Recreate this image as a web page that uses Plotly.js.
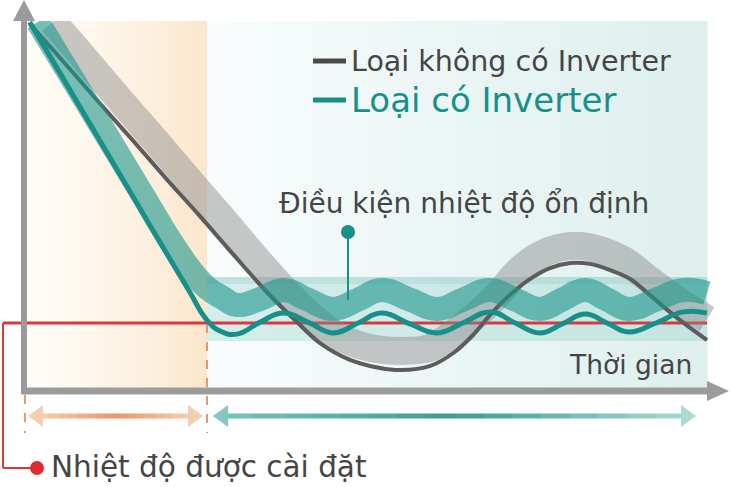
<!DOCTYPE html>
<html>
<head>
<meta charset="utf-8">
<script src="https://cdn.plot.ly/plotly-3.0.1.min.js"></script>
<style>
  html, body { margin: 0; padding: 0; background: #fff; }
  #chart { width: 730px; height: 487px; }
</style>
</head>
<body>
<div id="chart"></div>
<script>
// thời gian (0..100) / nhiệt độ (set point = 20)
const setTemp = 20;

// Loại có Inverter - đường thực tế
const timeInverter = [0.4, 5.4, 10.4, 15.4, 20.4, 24, 26.2, 28.4, 30.9, 34.3, 37.7, 41.3, 45, 48.7, 52.1, 56.3, 60.3, 64.1, 68.1, 71.8, 75.4, 78.7, 82.1, 85.3, 88.5, 92.5, 96.5, 100];
const tempInverter = [30.03, 28.12, 26.2, 24.28, 22.37, 21.01, 20.17, 19.73, 19.63, 20.03, 20.33, 20.03, 19.67, 20, 20.33, 19.97, 19.67, 20, 20.37, 20, 19.67, 19.97, 20.3, 20, 19.7, 20, 20.37, 20.33];

// Loại có Inverter - dải dao động
const timeInverterBand = [1.6, 6.6, 11.6, 16.6, 21.3, 24.3, 26.5, 28.7, 30.9, 34.3, 37.7, 41.3, 45, 48.7, 52.1, 56.3, 60.3, 64.1, 68.1, 71.8, 75.4, 78.7, 82.1, 85.3, 88.5, 92.5, 96.5, 100];
const tempInverterBand = [30.03, 28.17, 26.3, 24.43, 22.67, 21.7, 21.17, 20.85, 20.6, 20.8, 21.1, 20.78, 20.47, 20.78, 21.1, 20.78, 20.47, 20.78, 21.1, 20.78, 20.47, 20.78, 21.1, 20.78, 20.47, 20.78, 21.1, 21.0];

// Loại không có Inverter - đường thực tế
const timeStandard = [0.4, 5.4, 10.4, 15.4, 20.4, 25.4, 30.4, 35.4, 39.4, 43.1, 47.5, 51.9, 54.9, 59.3, 62.7, 65.6, 68.1, 71, 74, 76.9, 79.9, 82.8, 85.7, 88.7, 91.6, 95.6, 100];
const tempStandard = [29.97, 28.7, 27.4, 26.13, 24.83, 23.57, 22.27, 21.0, 20.1, 19.33, 18.77, 18.5, 18.43, 18.57, 19.0, 19.6, 20.27, 20.93, 21.47, 21.83, 22.0, 21.97, 21.77, 21.47, 20.93, 20.17, 19.43];

// Loại không có Inverter - dải dao động
const timeStandardBand = [3.8, 8.8, 13.8, 18.8, 23.8, 28.8, 33.8, 37.9, 41.6, 46, 50.4, 54.9, 59.3, 62.9, 66.6, 69.6, 71.8, 74.7, 78.1, 81.3, 84.3, 87.9, 91.6, 95.6, 100];
const tempStandardBand = [30.03, 28.73, 27.4, 26.1, 24.77, 23.47, 22.13, 21.1, 20.27, 19.53, 19.17, 19.07, 19.17, 19.7, 20.37, 21.03, 21.63, 22.17, 22.5, 22.57, 22.43, 22.07, 21.43, 20.77, 20.13];

const legendLabels = ['Loại không có Inverter', 'Loại có Inverter'];
const noteStable = 'Điều kiện nhiệt độ ổn định';
const noteTime = 'Thời gian';
const noteSet = 'Nhiệt độ được cài đặt';

const W = 730, H = 487;
const px = x => x / W;
const py = y => 1 - y / H;
const FONT = '"DejaVu Sans", Lato, sans-serif';
const TEXT = '#454545';
const TEAL = '#17908a';
const GRAY = '#5c5c5c';

function rect(x0, y0, x1, y1, color, layer) {
    return { type: 'rect', xref: 'paper', yref: 'paper', layer: layer || 'below',
        x0: px(x0), x1: px(x1), y0: py(y1), y1: py(y0),
        fillcolor: color, line: { width: 0 } };
}
function seg(x0, y0, x1, y1, color, width, dash) {
    return { type: 'line', xref: 'paper', yref: 'paper', layer: 'below',
        x0: px(x0), x1: px(x1), y0: py(y0), y1: py(y1),
        line: { color: color, width: width, dash: dash || 'solid' } };
}
function tri(pts, color) {
    const d = 'M ' + pts.map(p => px(p[0]) + ' ' + py(p[1])).join(' L ') + ' Z';
    return { type: 'path', xref: 'paper', yref: 'paper', layer: 'above', path: d,
        fillcolor: color, line: { width: 0 } };
}
function dot(x, y, r, color) {
    return { type: 'circle', xref: 'paper', yref: 'paper', layer: 'above',
        x0: px(x - r), x1: px(x + r), y0: py(y + r), y1: py(y - r),
        fillcolor: color, line: { width: 0 } };
}
function mix(a, b, f) {
    return 'rgb(' + a.map((v, i) => Math.round(v + (b[i] - v) * f)).join(',') + ')';
}
function label(text, x, y, size, color) {
    return { text: text, xref: 'paper', yref: 'paper', x: px(x), y: py(y),
        xanchor: 'left', yanchor: 'middle', showarrow: false,
        font: { family: FONT, size: size, color: color } };
}
// thanh mũi tên có màu chuyển (đầu -> giữa -> cuối)
function gradBar(x0, x1, y, c0, cm, c1, width) {
    const out = [], n = 16;
    for (let i = 0; i < n; i++) {
        const f = (i + 0.5) / n;
        const c = f < 0.5 ? mix(c0, cm, f * 2) : mix(cm, c1, (f - 0.5) * 2);
        out.push(seg(x0 + (x1 - x0) * i / n, y, x0 + (x1 - x0) * (i + 1) / n + 0.6, y, c, width));
    }
    return out;
}

const shapes = [];

// nền cam (giai đoạn làm lạnh) và nền xanh nhạt
const N = 24;
for (let i = 0; i < N; i++) {
    const a = 27 + (207 - 27) * i / N, b = 27 + (207 - 27) * (i + 1) / N + 0.5;
    shapes.push(rect(a, 21, b, 391, mix([255, 252, 247], [251, 231, 205], Math.pow(i / (N - 1), 1.3))));
}
for (let i = 0; i < N; i++) {
    const a = 207 + (707 - 207) * i / N, b = 207 + (707 - 207) * (i + 1) / N + 0.5;
    shapes.push(rect(a, 21, b, 391, mix([248, 252, 252], [222, 239, 238], i / (N - 1))));
}
// dải ổn định
shapes.push(rect(207, 277, 707, 341, 'rgba(150,208,202,0.35)'));
shapes.push(rect(207, 277, 707, 284, 'rgba(130,195,188,0.25)'));

// đường nhiệt độ cài đặt
shapes.push({ type: 'line', xref: 'paper', yref: 'y', layer: 'below',
    x0: px(3), x1: px(707), y0: setTemp, y1: setTemp,
    line: { color: '#d8393c', width: 3 } });
shapes.push(seg(3, 323, 3, 468, '#d8393c', 2));
shapes.push(seg(3, 468, 36, 468, '#d8393c', 2));
shapes.push(dot(37, 468, 7, '#e02b2f'));

// cắt phần dải phía trên khung
shapes.push(rect(27, 0, 730, 21, '#ffffff', 'above'));

// trục
shapes.push(seg(24, 18, 24, 394, '#9b9b9b', 6));
shapes.push(seg(21, 391, 708, 391, '#9b9b9b', 7));
shapes.push(tri([[13, 21], [24, 0], [35, 21]], '#9b9b9b'));
shapes.push(tri([[707, 381], [729, 391], [707, 401]], '#9b9b9b'));

// vạch đứt
shapes.push(seg(25, 395, 25, 433, '#e0774e', 1.5, 'dash'));
shapes.push(seg(207, 324, 207, 433, '#e0774e', 1.5, 'dash'));

// mũi tên giai đoạn
shapes.push(...gradBar(40, 192, 416, [248, 206, 178], [236, 146, 100], [248, 206, 178], 5));
shapes.push(tri([[28, 416], [43, 405], [43, 427]], '#f6cdb0'));
shapes.push(tri([[203, 416], [188, 405], [188, 427]], '#f6cdb0'));
shapes.push(...gradBar(226, 684, 416, [120, 195, 187], [52, 160, 151], [168, 216, 211], 5));
shapes.push(tri([[213, 416], [228, 405], [228, 427]], '#86c7c0'));
shapes.push(tri([[696, 416], [681, 405], [681, 427]], '#acd9d4'));

// chú thích
shapes.push(seg(313, 61, 346, 61, '#4a4a4a', 5));
shapes.push(seg(313, 100, 346, 100, TEAL, 5));

// ghim "ổn định"
shapes.push(seg(348, 232, 348, 300, TEAL, 2));
shapes.push(dot(348, 232, 7, TEAL));

const traces = [
    { x: timeStandardBand, y: tempStandardBand, mode: 'lines', type: 'scatter',
      line: { shape: 'spline', smoothing: 1, width: 28, color: 'rgba(135,135,135,0.45)' }, hoverinfo: 'skip' },
    { x: timeStandard, y: tempStandard, mode: 'lines', type: 'scatter',
      line: { shape: 'spline', smoothing: 1, width: 4, color: GRAY }, hoverinfo: 'skip' },
    { x: timeInverterBand, y: tempInverterBand, mode: 'lines', type: 'scatter',
      line: { shape: 'spline', smoothing: 1.3, width: 24, color: 'rgba(28,150,140,0.6)' }, hoverinfo: 'skip' },
    { x: timeInverter, y: tempInverter, mode: 'lines', type: 'scatter',
      line: { shape: 'spline', smoothing: 1.3, width: 5, color: TEAL }, hoverinfo: 'skip' }
];

const layout = {
    width: W, height: H,
    margin: { t: 0, b: 0, l: 0, r: 0 },
    paper_bgcolor: '#fff', plot_bgcolor: 'rgba(0,0,0,0)',
    showlegend: false,
    xaxis: { range: [-27 / 6.8, 703 / 6.8], visible: false, fixedrange: true },
    yaxis: { range: [setTemp - 164 / 30, setTemp + 323 / 30], visible: false, fixedrange: true },
    shapes: shapes,
    annotations: [
        label(legendLabels[0], 349, 61, 28.5, TEXT),
        label(legendLabels[1], 349, 100, 34, TEAL),
        label(noteStable, 277, 203, 28, TEXT),
        label(noteTime, 567, 364, 26.5, TEXT),
        label(noteSet, 49, 467, 29.5, TEXT)
    ],
    hovermode: false, dragmode: false
};

Plotly.newPlot('chart', traces, layout, { displayModeBar: false, staticPlot: true });
</script>
</body>
</html>
